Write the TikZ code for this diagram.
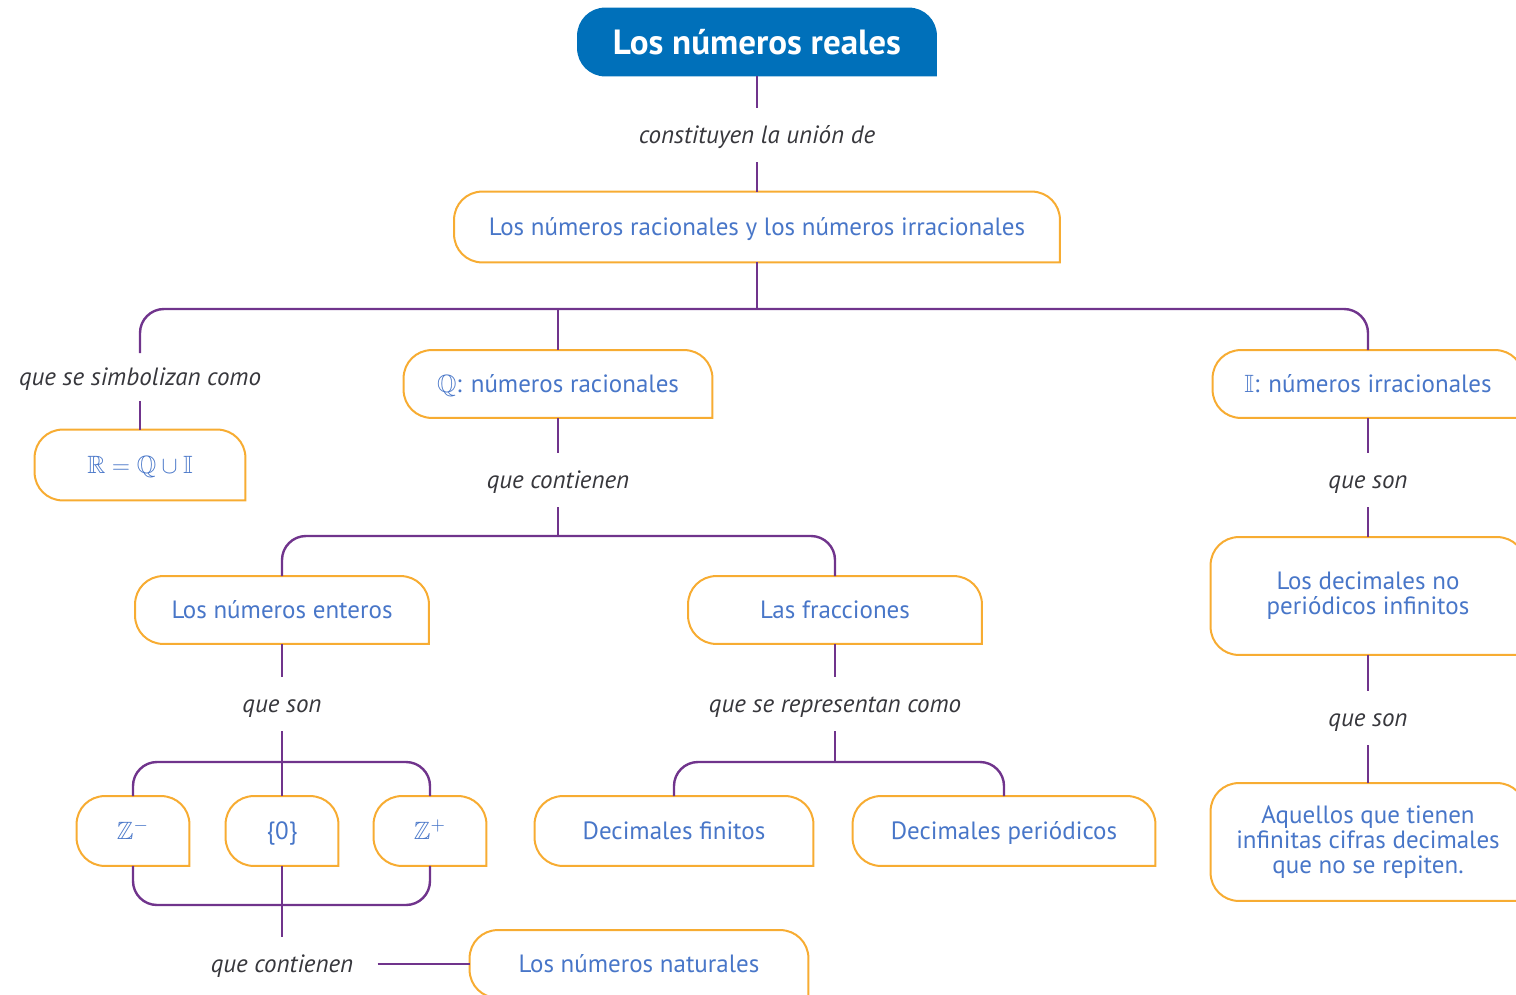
\documentclass[tikz,border=0pt]{standalone}
\usepackage{fontspec}
\usepackage{amssymb}
\setmainfont{PT Sans}
\usetikzlibrary{positioning,calc,backgrounds}
\definecolor{realblue}{RGB}{0,112,186}
\definecolor{boxorange}{RGB}{247,172,50}
\definecolor{linkpurple}{RGB}{112,52,140}
\definecolor{boxtext}{RGB}{72,118,200}
\definecolor{labeltext}{RGB}{55,55,60}
\tikzset{
  mapbox/.style={inner sep=2pt, align=center, text=boxtext, font=\fontsize{12.5}{12.5}\selectfont},
  onebox/.style={mapbox, text height=1.85ex, text depth=0.15ex},
  labeltxt/.style={inner xsep=12pt, inner ysep=0pt, minimum height=27pt, text height=1.9ex, text depth=0.2ex, text=labeltext, font=\fontsize{12.5}{13}\selectfont\itshape},
  link/.style={draw=linkpurple, line width=1.2pt},
  bus/.style={link, rounded corners=12pt},
  boxline/.style={draw=boxorange, line width=1pt, rounded corners=14pt, line cap=rect}
}

\begin{document}
\begin{tikzpicture}[x=0.5pt, y=-0.5pt]
            \useasboundingbox (0,0) rectangle (1516,995);
            % caja principal
            \node[text=white, font=\fontsize{17.5}{18}\selectfont\bfseries, minimum width=179.5pt, minimum height=34pt] (title) at (757,42) {Los números reales};
            \node[labeltxt] (l1) at (757,135) {constituyen la unión de};
            \node[onebox, minimum width=302.5pt, minimum height=35pt] (union) at (757,227) {Los números racionales y los números irracionales};
            \coordinate (bus1) at (757,309);
            % tres ramas
            \node[labeltxt, minimum height=23.5pt] (l2) at (140,377) {que se simbolizan como};
            \node[onebox, minimum width=105pt, minimum height=35pt] (rqi) at (140,465) {$\mathbb{R} = \mathbb{Q} \cup \mathbb{I}$};
            \node[onebox, minimum width=154pt, minimum height=33.5pt] (rac) at (558,384) {$\mathbb{Q}$: números racionales};
            \node[onebox, minimum width=155pt, minimum height=33.5pt] (irr) at (1368,384) {$\mathbb{I}$: números irracionales};
            % racionales
            \node[labeltxt] (l3) at (558,480) {que contienen};
            \coordinate (bus2) at (558,536);
            \node[onebox, minimum width=146.5pt, minimum height=33.5pt] (ent) at (282,610) {Los números enteros};
            \node[onebox, minimum width=146.5pt, minimum height=33.5pt] (frac) at (835,610) {Las fracciones};
            \node[labeltxt] (l5) at (282,704) {que son};
            \coordinate (bus3) at (282,762);
            \node[onebox, minimum width=56pt, minimum height=34.5pt] (zneg) at (133,831) {$\mathbb{Z}^-$};
            \node[onebox, minimum width=56pt, minimum height=34.5pt] (zero) at (282,831) {\{0\}};
            \node[onebox, minimum width=56pt, minimum height=34.5pt] (zpos) at (430,831) {$\mathbb{Z}^+$};
            \coordinate (bus4) at (282,905);
            \node[labeltxt] (l8) at (282,964) {que contienen};
            \node[onebox, minimum width=169pt, minimum height=33.5pt] (nat) at (639,964) {Los números naturales};
            \node[labeltxt] (l6) at (835,704) {que se representan como};
            \coordinate (bus5) at (835,762);
            \node[onebox, minimum width=139pt, minimum height=34.5pt] (dfin) at (674,831) {Decimales finitos};
            \node[onebox, minimum width=151pt, minimum height=34.5pt] (dper) at (1004,831) {Decimales periódicos};
            % irracionales
            \node[labeltxt] (l4) at (1368,480) {que son};
            \node[mapbox, minimum width=157pt, minimum height=58.5pt] (dnp) at (1368,596) {Los decimales no\\periódicos infinitos};
            \node[labeltxt] (l7) at (1368,718) {que son};
            \node[mapbox, minimum width=157pt, minimum height=58.5pt] (aq) at (1368,842) {Aquellos que tienen\\infinitas cifras decimales\\que no se repiten.};

            % cajas
            \begin{scope}[on background layer]
                \fill[realblue, rounded corners=14pt] (title.south east) -- (title.north east) -- (title.north west) -- (title.south west) -- (title.south east);
            \end{scope}
            \foreach \b in {union,rqi,rac,irr,ent,frac,zneg,zero,zpos,nat,dfin,dper,dnp,aq}
                \draw[boxline] (\b.south east) -- (\b.north east) -- (\b.north west) -- (\b.south west) -- (\b.south east);

            % conectores
            \draw[link] (title) -- (l1);
            \draw[link] (l1) -- (union);
            \draw[link] (union) -- (bus1);
            \draw[bus] (l2) |- (bus1) -| (irr);
            \draw[link] (l2) -- (rqi);
            \draw[link] (bus1 -| rac) -- (rac);
            \draw[link] (rac) -- (l3);
            \draw[link] (l3) -- (bus2);
            \draw[bus] (ent) |- (bus2) -| (frac);
            \draw[link] (ent) -- (l5);
            \draw[link] (l5) -- (zero);
            \draw[bus] (zneg) |- (bus3) -| (zpos);
            \draw[bus] (zneg) |- (bus4) -| (zpos);
            \draw[link] (zero) -- (l8);
            \draw[link] (l8) -- (nat);
            \draw[link] (frac) -- (l6);
            \draw[link] (l6) -- (bus5);
            \draw[bus] (dfin) |- (bus5) -| (dper);
            \draw[link] (irr) -- (l4);
            \draw[link] (l4) -- (dnp);
            \draw[link] (dnp) -- (l7);
            \draw[link] (l7) -- (aq);
        \end{tikzpicture}
\end{document}
